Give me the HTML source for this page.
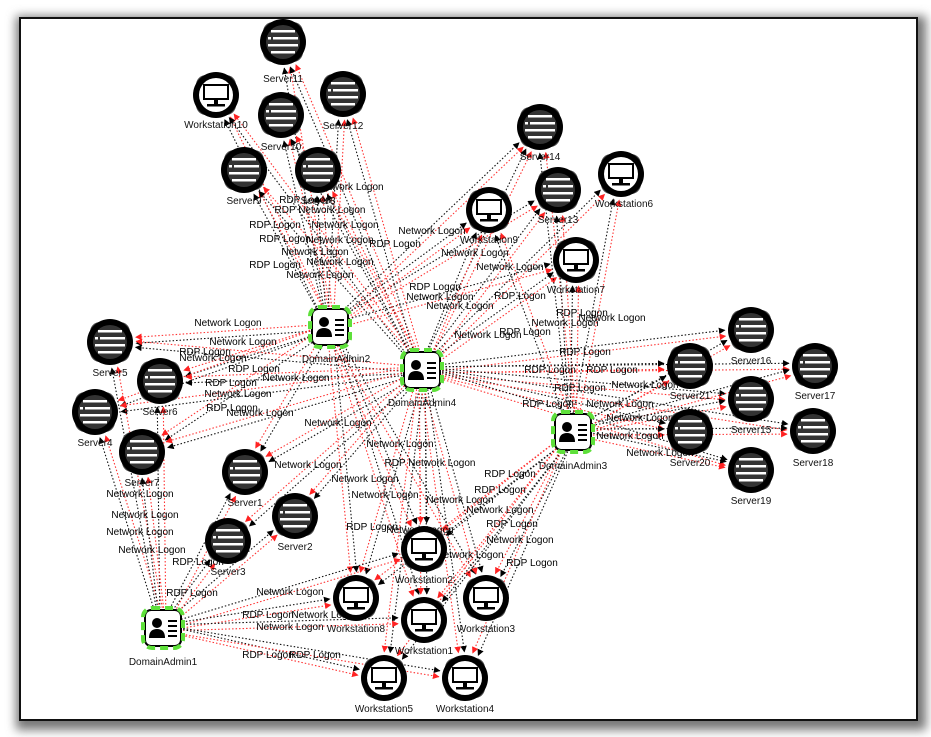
<!DOCTYPE html>
<html><head><meta charset="utf-8"><style>
html,body{margin:0;padding:0;background:#fff;}
svg{display:block;font-family:"Liberation Sans",sans-serif;}
.l{font-size:10px;fill:#000;text-anchor:middle;}
.n{font-size:10px;fill:#111;text-anchor:middle;}
</style></head><body>
<svg id="s" width="931" height="737" viewBox="0 0 931 737">
<defs>
<filter id="sh" x="-5%" y="-5%" width="110%" height="110%"><feGaussianBlur stdDeviation="5"/></filter>
<marker id="ab" viewBox="0 0 10 10" refX="9" refY="5" markerWidth="6" markerHeight="6" orient="auto"><path d="M0,0L10,5L0,10z" fill="#000"/></marker>
<marker id="ar" viewBox="0 0 10 10" refX="9" refY="5" markerWidth="6" markerHeight="6" orient="auto"><path d="M0,0L10,5L0,10z" fill="#f22"/></marker>
<symbol id="srv" viewBox="-25 -25 50 50" overflow="visible">
<rect x="-20" y="-20" width="40" height="40" rx="10" fill="#444"/>
<circle r="23" fill="#000"/><circle r="17" fill="#333"/>
<rect x="-12" y="-12" width="24" height="2.5" fill="#fff"/>
<rect x="-15" y="-5" width="30" height="2.5" fill="#fff"/>
<rect x="-15" y="2" width="30" height="2.5" fill="#fff"/>
<rect x="-12" y="9" width="24" height="2.5" fill="#fff"/>
<rect x="-12" y="-5" width="2" height="2.5" fill="#333"/>
</symbol>
<symbol id="ws" viewBox="-25 -25 50 50" overflow="visible">
<rect x="-20" y="-20" width="40" height="40" rx="10" fill="#444"/>
<circle r="23" fill="#000"/><circle r="17" fill="#fff"/>
<rect x="-13" y="-11" width="26" height="16" fill="#000"/>
<rect x="-11" y="-9" width="22" height="12" fill="#fff"/>
<rect x="-2" y="5" width="4" height="4" fill="#000"/>
<rect x="-9" y="9" width="18" height="2.5" fill="#000"/>
</symbol>
<symbol id="adm" viewBox="-22 -22 44 44" overflow="visible">
<rect x="-18" y="-18" width="36" height="36" rx="6" fill="#fff" stroke="#000" stroke-width="2"/>
<rect x="-20" y="-20" width="40" height="40" rx="9" fill="none" stroke="#5ee03a" stroke-width="4" stroke-dasharray="8 5"/>
<circle cx="-6" cy="-5" r="5" fill="#000"/>
<path d="M-14,10 Q-14,1 -6,1 Q2,1 2,10z" fill="#000"/>
<rect x="5" y="-8" width="9" height="2" fill="#000"/>
<rect x="5" y="-3" width="9" height="2" fill="#000"/>
<rect x="5" y="2" width="9" height="2" fill="#000"/>
<rect x="5" y="7" width="9" height="2" fill="#000"/>
</symbol>
</defs>
<rect x="0" y="0" width="931" height="737" fill="#fff"/>
<rect x="16" y="16" width="910" height="714" fill="#777" filter="url(#sh)"/>
<rect x="20" y="18" width="897" height="702" fill="#fff" stroke="#111" stroke-width="2"/>
<g id="edges"></g>
<g class="l">
<text x="228" y="326">Network Logon</text><text x="243" y="345">Network Logon</text>
<text x="205" y="355">RDP Logon</text><text x="213" y="361">Network Logon</text>
<text x="254" y="372">RDP Logon</text><text x="296" y="381">Network Logon</text>
<text x="231" y="386">RDP Logon</text><text x="238" y="397">Network Logon</text>
<text x="232" y="411">RDP Logon</text><text x="260" y="416">Network Logon</text>
<text x="338" y="426">Network Logon</text><text x="308" y="468">Network Logon</text>
<text x="430" y="466">RDP Network Logon</text><text x="365" y="482">Network Logon</text>
<text x="350" y="190">Network Logon</text><text x="305" y="203">RDP Logon</text>
<text x="320" y="213">RDP Network Logon</text><text x="275" y="228">RDP Logon</text>
<text x="345" y="228">Network Logon</text><text x="285" y="242">RDP Logon</text>
<text x="340" y="243">Network Logon</text><text x="395" y="247">RDP Logon</text>
<text x="315" y="255">Network Logon</text><text x="275" y="268">RDP Logon</text>
<text x="340" y="265">Network Logon</text><text x="320" y="278">Network Logon</text>
<text x="432" y="234">Network Logon</text><text x="475" y="256">Network Logon</text>
<text x="510" y="270">Network Logon</text><text x="435" y="290">RDP Logon</text>
<text x="440" y="300">Network Logon</text><text x="520" y="299">RDP Logon</text>
<text x="460" y="309">Network Logon</text><text x="488" y="338">Network Logon</text>
<text x="525" y="335">RDP Logon</text><text x="582" y="316">RDP Logon</text>
<text x="612" y="321">Network Logon</text><text x="565" y="326">Network Logon</text>
<text x="585" y="355">RDP Logon</text><text x="550" y="373">RDP Logon</text>
<text x="612" y="373">RDP Logon</text><text x="645" y="388">Network Logon</text>
<text x="580" y="391">RDP Logon</text><text x="548" y="407">RDP Logon</text>
<text x="620" y="407">Network Logon</text><text x="640" y="421">Network Logon</text>
<text x="630" y="439">Network Logon</text><text x="660" y="456">Network Logon</text>
<text x="140" y="497">Network Logon</text><text x="145" y="518">Network Logon</text>
<text x="140" y="535">Network Logon</text><text x="152" y="553">Network Logon</text>
<text x="198" y="565">RDP Logon</text><text x="192" y="596">RDP Logon</text>
<text x="290" y="595">Network Logon</text><text x="268" y="618">RDP Logon</text>
<text x="290" y="630">Network Logon</text><text x="268" y="658">RDP Logon</text>
<text x="315" y="658">RDP Logon</text><text x="325" y="618">Network Logon</text>
<text x="372" y="530">RDP Logon</text><text x="420" y="533">Network Logon</text>
<text x="512" y="527">RDP Logon</text><text x="500" y="513">Network Logon</text>
<text x="500" y="493">RDP Logon</text><text x="520" y="543">Network Logon</text>
<text x="532" y="566">RDP Logon</text><text x="470" y="558">Network Logon</text>
<text x="385" y="498">Network Logon</text><text x="460" y="503">Network Logon</text>
<text x="510" y="477">RDP Logon</text><text x="400" y="447">Network Logon</text>
</g>
<g id="nodes"></g>
<g class="n">
<text x="283" y="82">Server11</text><text x="216" y="128">Workstation10</text>
<text x="281" y="150">Server10</text><text x="343" y="129">Server12</text>
<text x="244" y="204">Server9</text><text x="318" y="204">Server8</text>
<text x="540" y="160">Server14</text><text x="624" y="207">Workstation6</text>
<text x="558" y="223">Server13</text><text x="489" y="243">Workstation9</text>
<text x="576" y="293">Workstation7</text><text x="336" y="362">DomainAdmin2</text>
<text x="422" y="406">DomainAdmin4</text><text x="110" y="376">Server5</text>
<text x="160" y="415">Server6</text><text x="95" y="446">Server4</text>
<text x="142" y="486">Server7</text><text x="751" y="364">Server16</text>
<text x="815" y="399">Server17</text><text x="690" y="399">Server21</text>
<text x="751" y="433">Server15</text><text x="690" y="466">Server20</text>
<text x="813" y="466">Server18</text><text x="751" y="504">Server19</text>
<text x="573" y="469">DomainAdmin3</text><text x="245" y="506">Server1</text>
<text x="295" y="550">Server2</text><text x="228" y="575">Server3</text>
<text x="424" y="583">Workstation2</text><text x="356" y="632">Workstation8</text>
<text x="424" y="654">Workstation1</text><text x="486" y="632">Workstation3</text>
<text x="163" y="665">DomainAdmin1</text><text x="384" y="712">Workstation5</text>
<text x="465" y="712">Workstation4</text>
</g>
</svg>
<script>
var N={S11:[283,42,'srv'],W10:[216,95,'ws'],S10:[281,115,'srv'],S12:[343,94,'srv'],S9:[244,170,'srv'],S8:[318,170,'srv'],
S14:[540,127,'srv'],W6:[621,174,'ws'],S13:[558,190,'srv'],W9:[489,210,'ws'],W7:[576,260,'ws'],
S5:[110,342,'srv'],S6:[160,381,'srv'],S4:[95,412,'srv'],S7:[142,452,'srv'],
S16:[751,330,'srv'],S17:[815,366,'srv'],S21:[690,366,'srv'],S15:[751,399,'srv'],S20:[690,432,'srv'],S18:[813,431,'srv'],S19:[751,470,'srv'],
S1:[245,472,'srv'],S2:[295,516,'srv'],S3:[228,541,'srv'],W2:[424,549,'ws'],W8:[356,598,'ws'],W1:[424,620,'ws'],W3:[486,598,'ws'],
W5:[384,678,'ws'],W4:[465,678,'ws'],
D2:[330,327,'adm'],D4:[422,370,'adm'],D3:[573,432,'adm'],D1:[163,628,'adm']};
var E={D2:'S11 S10 S12 W10 S9 S8 S5 S6 S4 S7 W2 W8 W1 W3 S14 S13 W9 W7 S1',
D4:'S11 S10 S12 W10 S9 S8 S14 W6 S13 W9 W7 S5 S6 S4 S7 S16 S17 S21 S15 S20 S18 S19 S1 S2 S3 W2 W8 W1 W3 W5 W4',
D3:'S14 W6 S13 W9 W7 S16 S17 S21 S15 S20 S18 S19 W2 W8 W1 W3 W5 W4',
D1:'S5 S6 S4 S7 S1 S2 S3 W2 W8 W1 W5 W4'};
var ns='http://www.w3.org/2000/svg',g=document.getElementById('edges'),ng=document.getElementById('nodes');
for(var a in E){E[a].split(' ').forEach(function(t,i){
 var A=N[a],B=N[t];[0,1].forEach(function(k){
  var dx=B[0]-A[0],dy=B[1]-A[1],d=Math.hypot(dx,dy),ux=dx/d,uy=dy/d,o=(k?3:-3);
  var l=document.createElementNS(ns,'line');
  l.setAttribute('x1',A[0]+ux*20-uy*o);l.setAttribute('y1',A[1]+uy*20+ux*o);
  l.setAttribute('x2',B[0]-ux*26-uy*o);l.setAttribute('y2',B[1]-uy*26+ux*o);
  l.setAttribute('stroke',k?'#f33':'#111');l.setAttribute('stroke-width',1.1);
  l.setAttribute('stroke-dasharray','1.5 2');l.setAttribute('marker-end',k?'url(#ar)':'url(#ab)');
  g.appendChild(l);});});}
for(var n in N){var u=document.createElementNS(ns,'use');var p=N[n];
 var s=p[2]=='adm'?44:50;
 u.setAttribute('href','#'+p[2]);u.setAttribute('x',p[0]-s/2);u.setAttribute('y',p[1]-s/2);
 u.setAttribute('width',s);u.setAttribute('height',s);ng.appendChild(u);}
</script>
</body></html>
